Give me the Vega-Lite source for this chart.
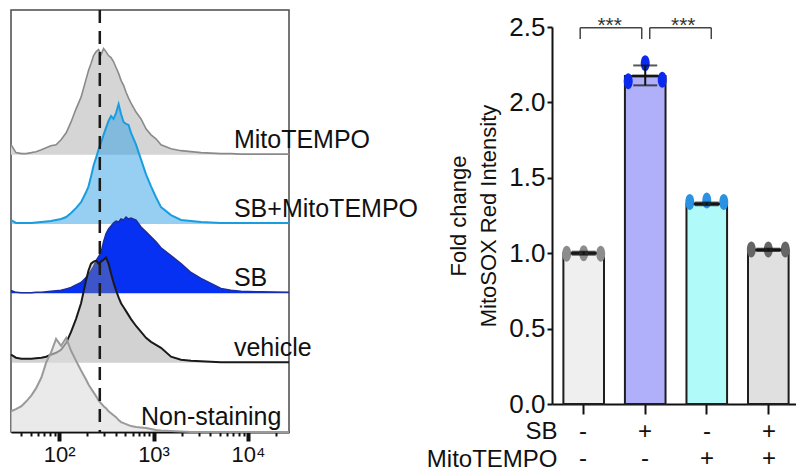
{
"$schema": "https://vega.github.io/schema/vega-lite/v6.json",
"padding": {"left": 6, "top": 8, "right": 0, "bottom": 0},
"autosize": {"type": "pad"},
"background": "white",
"bounds": "flush",
"spacing": 263,
"config": {"view": {"stroke": null}, "font": "Liberation Sans", "text": {"font": "Liberation Sans"}, "axis": {"labelFont": "Liberation Sans", "titleFont": "Liberation Sans"}},
"datasets": {
"hist": [
{"g":"MT","v":31,"c":10},{"g":"MT","v":35,"c":2},{"g":"MT","v":40,"c":1},{"g":"MT","v":45,"c":1},{"g":"MT","v":51,"c":2},{"g":"MT","v":57,"c":3},{"g":"MT","v":65,"c":5},{"g":"MT","v":73,"c":7},{"g":"MT","v":82,"c":9},{"g":"MT","v":93,"c":10},
{"g":"MT","v":105,"c":15},{"g":"MT","v":119,"c":22},{"g":"MT","v":134,"c":33},{"g":"MT","v":151,"c":46},{"g":"MT","v":171,"c":58},{"g":"MT","v":193,"c":76},{"g":"MT","v":205,"c":85},{"g":"MT","v":218,"c":92},{"g":"MT","v":232,"c":100},{"g":"MT","v":247,"c":104},
{"g":"MT","v":262,"c":106},{"g":"MT","v":278,"c":101},{"g":"MT","v":296,"c":107},{"g":"MT","v":314,"c":104},{"g":"MT","v":334,"c":100},{"g":"MT","v":355,"c":98},{"g":"MT","v":377,"c":94},{"g":"MT","v":401,"c":88},{"g":"MT","v":427,"c":82},{"g":"MT","v":453,"c":75},
{"g":"MT","v":482,"c":70},{"g":"MT","v":512,"c":63},{"g":"MT","v":544,"c":57},{"g":"MT","v":578,"c":52},{"g":"MT","v":653,"c":43},{"g":"MT","v":738,"c":36},{"g":"MT","v":833,"c":26},{"g":"MT","v":941,"c":20},{"g":"MT","v":1062,"c":16},{"g":"MT","v":1200,"c":10},
{"g":"MT","v":1531,"c":6},{"g":"MT","v":1954,"c":4},{"g":"MT","v":2493,"c":3},{"g":"MT","v":3181,"c":2},{"g":"MT","v":4057,"c":1.5},{"g":"MT","v":5176,"c":1},{"g":"MT","v":6603,"c":1},{"g":"MT","v":8433,"c":0.5},{"g":"MT","v":13730,"c":0.5},{"g":"MT","v":27170,"c":0.5},
{"g":"SBMT","v":31,"c":4},{"g":"SBMT","v":35,"c":1},{"g":"SBMT","v":40,"c":1},{"g":"SBMT","v":45,"c":1},{"g":"SBMT","v":51,"c":1},{"g":"SBMT","v":57,"c":1.5},{"g":"SBMT","v":65,"c":2},{"g":"SBMT","v":73,"c":2.5},{"g":"SBMT","v":82,"c":3},{"g":"SBMT","v":93,"c":4},
{"g":"SBMT","v":105,"c":5},{"g":"SBMT","v":119,"c":7},{"g":"SBMT","v":134,"c":11},{"g":"SBMT","v":151,"c":16},{"g":"SBMT","v":171,"c":22},{"g":"SBMT","v":193,"c":32},{"g":"SBMT","v":205,"c":38},{"g":"SBMT","v":218,"c":48},{"g":"SBMT","v":232,"c":59},{"g":"SBMT","v":247,"c":67},
{"g":"SBMT","v":262,"c":75},{"g":"SBMT","v":278,"c":82},{"g":"SBMT","v":296,"c":90},{"g":"SBMT","v":314,"c":97},{"g":"SBMT","v":334,"c":104},{"g":"SBMT","v":355,"c":109},{"g":"SBMT","v":377,"c":106},{"g":"SBMT","v":401,"c":112},{"g":"SBMT","v":427,"c":121},{"g":"SBMT","v":453,"c":111},
{"g":"SBMT","v":482,"c":103},{"g":"SBMT","v":512,"c":101},{"g":"SBMT","v":544,"c":100},{"g":"SBMT","v":578,"c":92},{"g":"SBMT","v":653,"c":80},{"g":"SBMT","v":738,"c":65},{"g":"SBMT","v":833,"c":50},{"g":"SBMT","v":941,"c":38},{"g":"SBMT","v":1062,"c":27},{"g":"SBMT","v":1200,"c":17},
{"g":"SBMT","v":1531,"c":9},{"g":"SBMT","v":1954,"c":4},{"g":"SBMT","v":2493,"c":3},{"g":"SBMT","v":3181,"c":2},{"g":"SBMT","v":4057,"c":1.5},{"g":"SBMT","v":5176,"c":1},{"g":"SBMT","v":6603,"c":1},{"g":"SBMT","v":8433,"c":1},{"g":"SBMT","v":13730,"c":1},{"g":"SBMT","v":27170,"c":1},
{"g":"SB","v":31,"c":3},{"g":"SB","v":35,"c":1},{"g":"SB","v":40,"c":0.5},{"g":"SB","v":45,"c":0.5},{"g":"SB","v":51,"c":0.5},{"g":"SB","v":57,"c":1},{"g":"SB","v":65,"c":1},{"g":"SB","v":73,"c":1.5},{"g":"SB","v":82,"c":2},{"g":"SB","v":93,"c":2.5},
{"g":"SB","v":105,"c":3},{"g":"SB","v":119,"c":4.5},{"g":"SB","v":134,"c":6},{"g":"SB","v":151,"c":8.5},{"g":"SB","v":171,"c":11},{"g":"SB","v":193,"c":16},{"g":"SB","v":205,"c":19},{"g":"SB","v":218,"c":23},{"g":"SB","v":232,"c":27},{"g":"SB","v":247,"c":33},
{"g":"SB","v":262,"c":37},{"g":"SB","v":278,"c":41},{"g":"SB","v":296,"c":52},{"g":"SB","v":314,"c":60},{"g":"SB","v":334,"c":65},{"g":"SB","v":355,"c":68},{"g":"SB","v":377,"c":71},{"g":"SB","v":401,"c":73},{"g":"SB","v":427,"c":72},{"g":"SB","v":453,"c":75},
{"g":"SB","v":482,"c":74},{"g":"SB","v":512,"c":77},{"g":"SB","v":544,"c":75},{"g":"SB","v":578,"c":76},{"g":"SB","v":653,"c":74},{"g":"SB","v":738,"c":67},{"g":"SB","v":833,"c":62},{"g":"SB","v":941,"c":57},{"g":"SB","v":1062,"c":52},{"g":"SB","v":1200,"c":46},
{"g":"SB","v":1531,"c":38},{"g":"SB","v":1954,"c":30},{"g":"SB","v":2493,"c":21},{"g":"SB","v":3181,"c":15},{"g":"SB","v":4057,"c":10},{"g":"SB","v":5176,"c":5},{"g":"SB","v":6603,"c":3},{"g":"SB","v":8433,"c":2},{"g":"SB","v":13730,"c":1.5},{"g":"SB","v":27170,"c":1},
{"g":"VEH","v":31,"c":8},{"g":"VEH","v":35,"c":5},{"g":"VEH","v":40,"c":4},{"g":"VEH","v":45,"c":4},{"g":"VEH","v":51,"c":4},{"g":"VEH","v":57,"c":4.5},{"g":"VEH","v":65,"c":5},{"g":"VEH","v":73,"c":6},{"g":"VEH","v":82,"c":8},{"g":"VEH","v":93,"c":10},
{"g":"VEH","v":105,"c":13},{"g":"VEH","v":119,"c":20},{"g":"VEH","v":134,"c":31},{"g":"VEH","v":151,"c":44},{"g":"VEH","v":171,"c":60},{"g":"VEH","v":193,"c":83},{"g":"VEH","v":205,"c":93},{"g":"VEH","v":218,"c":100},{"g":"VEH","v":232,"c":102},{"g":"VEH","v":247,"c":103},
{"g":"VEH","v":262,"c":100},{"g":"VEH","v":278,"c":102},{"g":"VEH","v":296,"c":104},{"g":"VEH","v":314,"c":106},{"g":"VEH","v":334,"c":100},{"g":"VEH","v":355,"c":90},{"g":"VEH","v":377,"c":81},{"g":"VEH","v":401,"c":73},{"g":"VEH","v":427,"c":66},{"g":"VEH","v":453,"c":60},
{"g":"VEH","v":482,"c":56},{"g":"VEH","v":512,"c":52},{"g":"VEH","v":544,"c":48},{"g":"VEH","v":578,"c":44},{"g":"VEH","v":653,"c":37},{"g":"VEH","v":738,"c":31},{"g":"VEH","v":833,"c":25},{"g":"VEH","v":941,"c":21},{"g":"VEH","v":1062,"c":18},{"g":"VEH","v":1200,"c":15},
{"g":"VEH","v":1531,"c":6},{"g":"VEH","v":1954,"c":3},{"g":"VEH","v":2493,"c":2},{"g":"VEH","v":3181,"c":1.5},{"g":"VEH","v":4057,"c":1},{"g":"VEH","v":5176,"c":0.5},{"g":"VEH","v":6603,"c":0.5},{"g":"VEH","v":8433,"c":0.5},{"g":"VEH","v":13730,"c":0.5},{"g":"VEH","v":27170,"c":0.5},
{"g":"NS","v":31,"c":21},{"g":"NS","v":35,"c":23},{"g":"NS","v":40,"c":26},{"g":"NS","v":45,"c":31},{"g":"NS","v":51,"c":37},{"g":"NS","v":57,"c":44},{"g":"NS","v":65,"c":55},{"g":"NS","v":73,"c":70},{"g":"NS","v":82,"c":80},{"g":"NS","v":93,"c":94},
{"g":"NS","v":105,"c":87},{"g":"NS","v":119,"c":95},{"g":"NS","v":134,"c":82},{"g":"NS","v":151,"c":72},{"g":"NS","v":171,"c":62},{"g":"NS","v":193,"c":53},{"g":"NS","v":205,"c":48},{"g":"NS","v":218,"c":44},{"g":"NS","v":232,"c":40},{"g":"NS","v":247,"c":36},
{"g":"NS","v":262,"c":32},{"g":"NS","v":278,"c":29},{"g":"NS","v":296,"c":26},{"g":"NS","v":314,"c":24},{"g":"NS","v":334,"c":21},{"g":"NS","v":355,"c":19},{"g":"NS","v":377,"c":17},{"g":"NS","v":401,"c":15},{"g":"NS","v":427,"c":12},{"g":"NS","v":453,"c":10},
{"g":"NS","v":482,"c":9},{"g":"NS","v":512,"c":8},{"g":"NS","v":544,"c":7},{"g":"NS","v":578,"c":6},{"g":"NS","v":653,"c":5},{"g":"NS","v":738,"c":4.5},{"g":"NS","v":833,"c":4},{"g":"NS","v":941,"c":3},{"g":"NS","v":1062,"c":2},{"g":"NS","v":1200,"c":1.5},
{"g":"NS","v":1531,"c":1},{"g":"NS","v":1954,"c":0.5},{"g":"NS","v":2493,"c":0},{"g":"NS","v":3181,"c":0},{"g":"NS","v":4057,"c":0},{"g":"NS","v":5176,"c":0},{"g":"NS","v":6603,"c":0},{"g":"NS","v":8433,"c":0},{"g":"NS","v":13730,"c":0},{"g":"NS","v":27170,"c":0}
],
"labels": [
{"t":"MitoTEMPO","v":7100,"y":287},
{"t":"SB+MitoTEMPO","v":7100,"y":217},
{"t":"SB","v":7100,"y":147},
{"t":"vehicle","v":7100,"y":77},
{"t":"Non-staining","v":738,"y":7}
],
"bars": [
{"grp":"a","mean":1.0,"lo":0.99,"hi":1.01},
{"grp":"b","mean":2.175,"lo":2.113,"hi":2.245},
{"grp":"c","mean":1.327,"lo":1.318,"hi":1.336},
{"grp":"d","mean":1.022,"lo":1.015,"hi":1.03}
],
"pts": [
{"grp":"a","rep":1,"val":0.997},{"grp":"a","rep":2,"val":1.0},{"grp":"a","rep":3,"val":0.997},
{"grp":"b","rep":1,"val":2.14},{"grp":"b","rep":2,"val":2.26},{"grp":"b","rep":3,"val":2.15},
{"grp":"c","rep":1,"val":1.34},{"grp":"c","rep":2,"val":1.35},{"grp":"c","rep":3,"val":1.34},
{"grp":"d","rep":1,"val":1.025},{"grp":"d","rep":2,"val":1.025},{"grp":"d","rep":3,"val":1.025}
],
"tbl": [
{"grp":"a","row":"SB","s":"-"},{"grp":"b","row":"SB","s":"+"},{"grp":"c","row":"SB","s":"-"},{"grp":"d","row":"SB","s":"+"},
{"grp":"a","row":"MitoTEMPO","s":"-"},{"grp":"b","row":"MitoTEMPO","s":"-"},{"grp":"c","row":"MitoTEMPO","s":"+"},{"grp":"d","row":"MitoTEMPO","s":"+"}
]
},
"hconcat": [
{
"width": 278, "height": 422,
"view": {"stroke": "#4a4a4a", "strokeWidth": 1.5},
"data": {"name": "hist"},
"transform": [
 {"calculate": "indexof(['NS','VEH','SB','SBMT','MT'], datum.g) * 70", "as": "base"},
 {"calculate": "datum.base + datum.c", "as": "top"}
],
"layer": [
 {"transform": [{"filter": "datum.g == 'MT'"}],
  "mark": {"type": "area", "fill": "#d5d5d5", "fillOpacity": 1, "line": {"color": "#8a8a8a", "strokeWidth": 1.6}},
  "encoding": {
   "x": {"field": "v", "type": "quantitative", "scale": {"type": "log", "domain": [31, 27170], "nice": false},
    "axis": {"values": [40,50,60,70,80,90,100,200,300,400,500,600,700,800,900,1000,2000,3000,4000,5000,6000,7000,8000,9000,10000,20000],
     "labelExpr": "datum.value == 100 ? '10²' : datum.value == 1000 ? '10³' : datum.value == 10000 ? '10⁴' : ''",
     "title": null, "grid": false, "domainColor": "#111", "domainWidth": 2, "tickColor": "#111",
     "tickSize": {"condition": {"test": "datum.value == 100 || datum.value == 1000 || datum.value == 10000", "value": 9}, "value": 4},
     "tickWidth": {"condition": {"test": "datum.value == 100 || datum.value == 1000 || datum.value == 10000", "value": 4}, "value": 2},
     "labelFontSize": 22, "labelPadding": 3, "labelBaseline": "top", "labelColor": "#111", "labelFlush": false, "labelOverlap": false}},
   "y": {"field": "top", "type": "quantitative", "scale": {"domain": [0, 426], "nice": false}, "axis": null},
   "y2": {"field": "base"}
  }},
 {"transform": [{"filter": "datum.g == 'SBMT'"}],
  "mark": {"type": "area", "fill": "#2da0e6", "fillOpacity": 0.5, "line": {"color": "#1a9de0", "strokeWidth": 2}},
  "encoding": {"x": {"field": "v", "type": "quantitative"}, "y": {"field": "top", "type": "quantitative", "axis": null}, "y2": {"field": "base"}}},
 {"transform": [{"filter": "datum.g == 'SB'"}],
  "mark": {"type": "area", "fill": "#0630f2", "fillOpacity": 1, "line": {"color": "#1c2e9e", "strokeWidth": 1.5}},
  "encoding": {"x": {"field": "v", "type": "quantitative"}, "y": {"field": "top", "type": "quantitative", "axis": null}, "y2": {"field": "base"}}},
 {"transform": [{"filter": "datum.g == 'VEH'"}],
  "mark": {"type": "area", "fill": "#8f8f8f", "fillOpacity": 0.4, "line": {"color": "#1a1a1a", "strokeWidth": 2}},
  "encoding": {"x": {"field": "v", "type": "quantitative"}, "y": {"field": "top", "type": "quantitative", "axis": null}, "y2": {"field": "base"}}},
 {"transform": [{"filter": "datum.g == 'NS'"}],
  "mark": {"type": "area", "fill": "#dcdcdc", "fillOpacity": 0.6, "line": {"color": "#9a9a9a", "strokeWidth": 2}},
  "encoding": {"x": {"field": "v", "type": "quantitative"}, "y": {"field": "top", "type": "quantitative", "axis": null}, "y2": {"field": "base"}}},
 {"data": {"values": [{"v": 270}]},
  "mark": {"type": "rule", "color": "#1a1a1a", "strokeWidth": 2.5, "strokeDash": [13, 8]},
  "encoding": {"x": {"field": "v", "type": "quantitative"}}},
 {"data": {"name": "labels"},
  "mark": {"type": "text", "align": "left", "baseline": "alphabetic", "fontSize": 25, "color": "#111"},
  "encoding": {"x": {"field": "v", "type": "quantitative"}, "y": {"field": "y", "type": "quantitative", "axis": null}, "text": {"field": "t"}}}
]
},
{
"bounds": "flush",
"spacing": 14,
"vconcat": [
 {"width": 248, "height": 3, "data": {"values": [{"k": 1}]}, "mark": {"type": "text", "text": "", "fontSize": 0}, "encoding": {}},
 {"width": 248, "height": 377,
  "layer": [
   {"data": {"name": "bars"},
    "mark": {"type": "bar", "stroke": "#1e1e1e", "strokeWidth": 2},
    "encoding": {
     "x": {"field": "grp", "type": "nominal", "sort": null, "scale": {"domain": ["a","b","c","d"], "paddingInner": 0.34, "paddingOuter": 0.185},
      "axis": {"labels": false, "title": null, "tickSize": 10, "tickWidth": 2, "tickColor": "#111", "domainColor": "#111", "domainWidth": 2}},
     "y": {"field": "mean", "type": "quantitative", "scale": {"domain": [0, 2.5], "nice": false},
      "axis": {"values": [0, 0.5, 1, 1.5, 2, 2.5], "format": ".1f", "grid": false, "labelFontSize": 26, "labelColor": "#111", "labelPadding": 2,
       "tickSize": 5, "tickWidth": 2, "tickColor": "#111", "domainColor": "#111", "domainWidth": 2,
       "title": ["Fold change", "MitoSOX Red Intensity"], "titleFontSize": 22, "titleFontWeight": "normal", "titleColor": "#111", "titleLineHeight": 30, "titlePadding": 8}},
     "fill": {"field": "grp", "type": "nominal", "scale": {"domain": ["a","b","c","d"], "range": ["#efefef", "#b0b0fa", "#b0fafa", "#e0e0e0"]}, "legend": null}
    }},
   {"data": {"name": "pts"},
    "transform": [{"filter": "datum.rep == 1"}],
    "mark": {"type": "point", "filled": true, "opacity": 1, "size": 256, "xOffset": -17, "shape": "M0,-1A0.56,1,0,1,1,0,1A0.56,1,0,1,1,0,-1Z"},
    "encoding": {
     "x": {"field": "grp", "type": "nominal"},
     "y": {"field": "val", "type": "quantitative"},
     "color": {"field": "grp", "type": "nominal", "scale": {"domain": ["a","b","c","d"], "range": ["#8c8c8c", "#0a2af0", "#2a92e2", "#656565"]}, "legend": null}
    }},
   {"data": {"name": "pts"},
    "transform": [{"filter": "datum.rep == 2"}],
    "mark": {"type": "point", "filled": true, "opacity": 1, "size": 256, "shape": "M0,-1A0.56,1,0,1,1,0,1A0.56,1,0,1,1,0,-1Z"},
    "encoding": {
     "x": {"field": "grp", "type": "nominal"},
     "y": {"field": "val", "type": "quantitative"},
     "color": {"field": "grp", "type": "nominal", "legend": null}
    }},
   {"data": {"name": "pts"},
    "transform": [{"filter": "datum.rep == 3"}],
    "mark": {"type": "point", "filled": true, "opacity": 1, "size": 256, "xOffset": 17, "shape": "M0,-1A0.56,1,0,1,1,0,1A0.56,1,0,1,1,0,-1Z"},
    "encoding": {
     "x": {"field": "grp", "type": "nominal"},
     "y": {"field": "val", "type": "quantitative"},
     "color": {"field": "grp", "type": "nominal", "legend": null}
    }},
   {"data": {"name": "bars"},
    "mark": {"type": "rule", "color": "#111", "strokeWidth": 2},
    "encoding": {"x": {"field": "grp", "type": "nominal"}, "y": {"field": "lo", "type": "quantitative"}, "y2": {"field": "hi"}}},
   {"data": {"name": "bars"},
    "mark": {"type": "tick", "color": "#111", "size": 24, "thickness": 2},
    "encoding": {"x": {"field": "grp", "type": "nominal"}, "y": {"field": "lo", "type": "quantitative"}}},
   {"data": {"name": "bars"},
    "mark": {"type": "tick", "color": "#111", "size": 24, "thickness": 2},
    "encoding": {"x": {"field": "grp", "type": "nominal"}, "y": {"field": "hi", "type": "quantitative"}}},
   {"data": {"name": "bars"},
    "mark": {"type": "tick", "color": "#111", "size": 26, "thickness": 3},
    "encoding": {"x": {"field": "grp", "type": "nominal"}, "y": {"field": "mean", "type": "quantitative"}}},
   {"data": {"values": [{"f": "a", "t": "b", "top": 2.495, "bot": 2.42, "sy": 2.47}]},
    "layer": [
     {"mark": {"type": "rule", "color": "#444", "strokeWidth": 1.5, "xOffset": -3.5, "x2Offset": -3.5},
      "encoding": {"x": {"field": "f", "type": "nominal"}, "x2": {"field": "t"}, "y": {"field": "top", "type": "quantitative"}}},
     {"transform": [{"fold": ["f", "t"], "as": ["side", "gg"]}],
      "mark": {"type": "rule", "color": "#444", "strokeWidth": 1.5, "xOffset": -3.5},
      "encoding": {"x": {"field": "gg", "type": "nominal"}, "y": {"field": "top", "type": "quantitative"}, "y2": {"field": "bot"}}},
     {"mark": {"type": "text", "text": "***", "fontSize": 21, "baseline": "alphabetic", "dx": 26, "color": "#333"},
      "encoding": {"x": {"field": "f", "type": "nominal"}, "y": {"field": "sy", "type": "quantitative"}}}
    ]},
   {"data": {"values": [{"f": "b", "t": "c", "top": 2.495, "bot": 2.42, "sy": 2.47}]},
    "layer": [
     {"mark": {"type": "rule", "color": "#444", "strokeWidth": 1.5, "xOffset": 4.5, "x2Offset": 4.5},
      "encoding": {"x": {"field": "f", "type": "nominal"}, "x2": {"field": "t"}, "y": {"field": "top", "type": "quantitative"}}},
     {"transform": [{"fold": ["f", "t"], "as": ["side", "gg"]}],
      "mark": {"type": "rule", "color": "#444", "strokeWidth": 1.5, "xOffset": 4.5},
      "encoding": {"x": {"field": "gg", "type": "nominal"}, "y": {"field": "top", "type": "quantitative"}, "y2": {"field": "bot"}}},
     {"mark": {"type": "text", "text": "***", "fontSize": 21, "baseline": "alphabetic", "dx": 38, "color": "#333"},
      "encoding": {"x": {"field": "f", "type": "nominal"}, "y": {"field": "sy", "type": "quantitative"}}}
    ]}
  ]},
 {"width": 248, "height": 55,
  "data": {"name": "tbl"},
  "mark": {"type": "text", "fontSize": 24, "color": "#111"},
  "encoding": {
   "x": {"field": "grp", "type": "nominal", "sort": null, "scale": {"domain": ["a","b","c","d"], "paddingInner": 0.34, "paddingOuter": 0.185}, "axis": null},
   "y": {"field": "row", "type": "nominal", "sort": null, "scale": {"domain": ["SB", "MitoTEMPO"], "paddingInner": 0, "paddingOuter": 0},
    "axis": {"domain": false, "ticks": false, "tickSize": 0, "labelFontSize": 24, "labelPadding": -5, "labelColor": "#111", "title": null}},
   "text": {"field": "s"}
  }}
]
}
]
}
